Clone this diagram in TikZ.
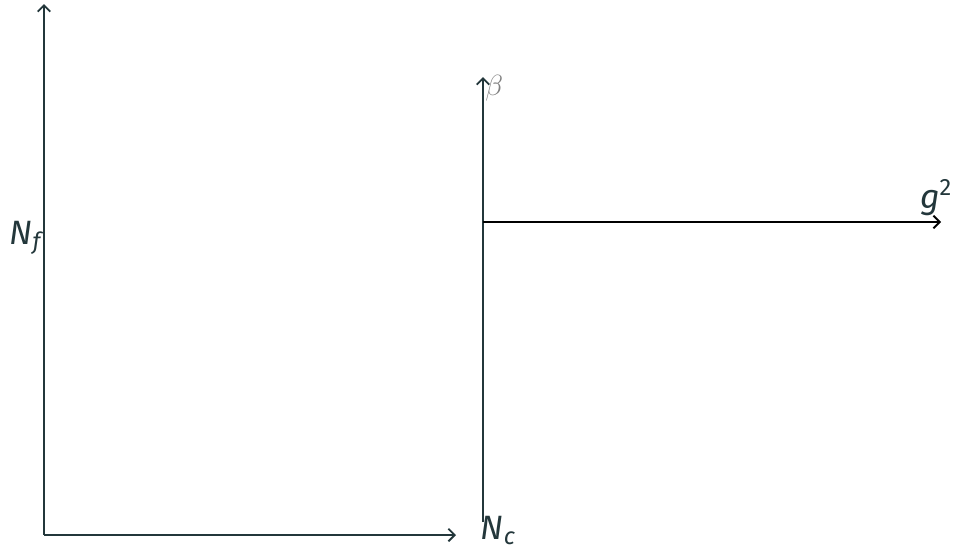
\documentclass[tikz,border=0pt]{standalone}
\usepackage{fontspec}
\setmainfont{Fira Sans}
\usetikzlibrary{arrows.meta}
\definecolor{slate}{HTML}{23373B}

\begin{document}
\begin{tikzpicture}[x=0.025cm, y=-0.025cm, >={Straight Barb[length=4.5pt, width=9pt]}, line width=1.3pt, every node/.style={text=slate, font=\fontsize{24}{28}\selectfont}]
            \useasboundingbox (0,0) rectangle (953,549);
            % left axes
            \coordinate (o1) at (44,535);
            \coordinate (yend) at (44,4);
            \coordinate (xend) at (456,535);
            \draw[->, slate] (o1) -- (yend);
            \draw[->, slate] (o1) -- (xend);
            \node (nf) at (27,238) {\textit{N}\textsubscript{\textit{f}}};
            \node[anchor=base west, inner sep=0pt] (nc) at (480,539) {\textit{N}\textsubscript{\textit{c}}};
            % right axes
            \coordinate (bbot) at (483,522);
            \coordinate (btop) at (483,77);
            \coordinate (g0) at (483,222);
            \coordinate (gend) at (941,222);
            \draw[->, slate] (bbot) -- (btop);
            \draw[->, black] (g0) -- (gend);
            \node[anchor=west, text=gray, inner sep=1pt, font=\fontsize{20}{24}\selectfont] (beta) at (btop.east |- 0,88) {$\beta$};
            \node[anchor=base east, inner sep=0pt] (gsq) at (953,208) {\textit{g}\textsuperscript{2}};
        \end{tikzpicture}
\end{document}
